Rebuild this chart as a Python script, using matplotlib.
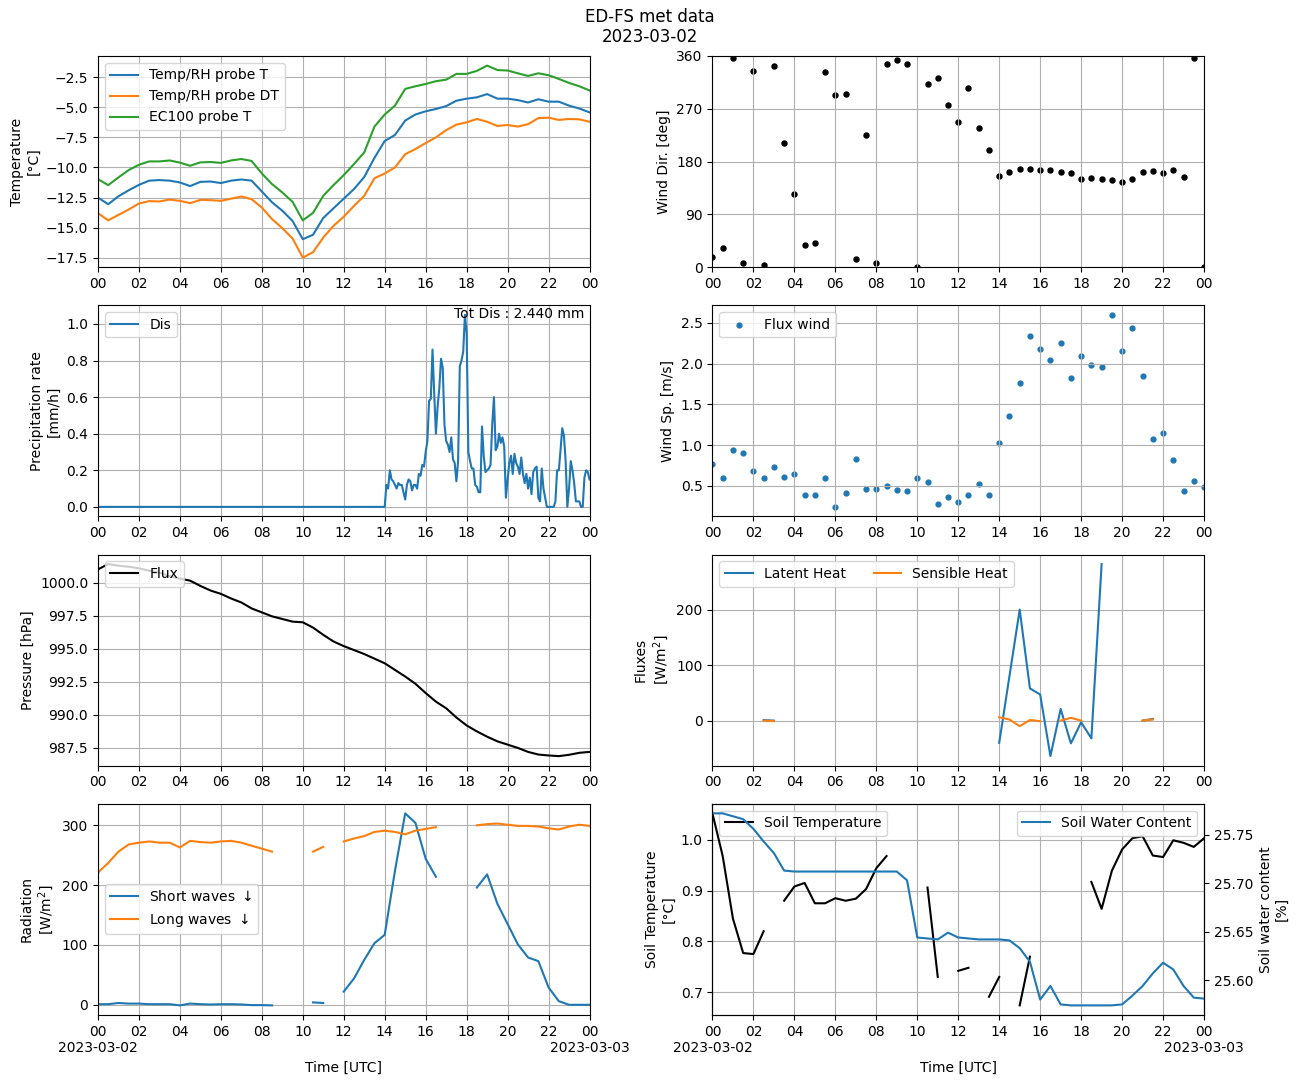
import matplotlib
matplotlib.use("Agg")
import matplotlib.pyplot as plt
import matplotlib.dates as mdates
import matplotlib.ticker as mticker
import numpy as np
import pandas as pd

nan = np.nan

# half-hourly time axis, 2023-03-02 00:00 .. 2023-03-03 00:00
times = pd.date_range("2023-03-02 00:00", periods=49, freq="30min")
# 5 minute time axis for the disdrometer
times_5min = pd.date_range("2023-03-02 00:00", periods=289, freq="5min")

temp_probe = [-12.5, -13.06, -12.4, -11.9, -11.45, -11.1, -11.05, -11.1, -11.25, -11.55,
              -11.2, -11.17, -11.3, -11.1, -11.0, -11.1, -12.0, -12.9, -13.6, -14.45,
              -15.97, -15.6, -14.2, -13.4, -12.6, -11.8, -10.8, -9.2, -7.8, -7.3,
              -6.1, -5.6, -5.33, -5.14, -4.9, -4.45, -4.28, -4.17, -3.9, -4.28,
              -4.28, -4.4, -4.6, -4.33, -4.53, -4.53, -4.86, -5.1, -5.42]
temp_dew = [-13.8, -14.4, -13.95, -13.5, -13.0, -12.8, -12.83, -12.67, -12.78, -12.97,
            -12.7, -12.72, -12.78, -12.6, -12.42, -12.64, -13.33, -14.3, -15.05, -15.9,
            -17.5, -17.05, -15.83, -14.86, -14.1, -13.2, -12.36, -10.9, -10.5, -10.0,
            -8.9, -8.47, -7.97, -7.5, -6.9, -6.44, -6.25, -5.97, -6.2, -6.55,
            -6.47, -6.6, -6.4, -5.9, -5.86, -6.05, -5.97, -6.0, -6.2]
temp_ec100 = [-10.97, -11.47, -10.83, -10.22, -9.78, -9.5, -9.5, -9.42, -9.6, -9.86,
              -9.58, -9.55, -9.62, -9.42, -9.3, -9.46, -10.5, -11.39, -12.08, -12.86,
              -14.4, -13.78, -12.36, -11.47, -10.64, -9.72, -8.75, -6.6, -5.6, -4.86,
              -3.47, -3.25, -3.06, -2.83, -2.7, -2.22, -2.22, -1.97, -1.53, -1.9,
              -1.94, -2.17, -2.39, -2.17, -2.33, -2.64, -2.97, -3.25, -3.6]

wind_dir = [18, 32, 357, 7, 334, 3, 343, 211, 125, 38,
            41, 332, 293, 295, 14, 226, 7, 347, 354, 346,
            0.5, 313, 323, 276, 248, 306, 238, 200, 156, 162,
            168, 168, 166, 166, 162, 161, 150, 152, 150, 149,
            145, 150, 162, 164, 161, 166, 154, 357, 1]

wind_speed = [0.77, 0.59, 0.94, 0.90, 0.68, 0.59, 0.73, 0.61, 0.64, 0.38,
              0.38, 0.59, 0.24, 0.41, 0.83, 0.46, 0.46, 0.50, 0.45, 0.44,
              0.60, 0.54, 0.28, 0.36, 0.30, 0.38, 0.52, 0.38, 1.02, 1.36,
              1.76, 2.34, 2.18, 2.04, 2.25, 1.83, 2.10, 1.98, 1.96, 2.60,
              2.15, 2.44, 1.85, 1.08, 1.15, 0.82, 0.43, 0.56, 0.48]

# precipitation rate, zero until 14:00, then 5 minute values 14:00 .. 24:00
precip_early = [0.0] * 168
precip_late = [0.0, 0.12, 0.10, 0.20, 0.15, 0.14, 0.12, 0.10, 0.13, 0.12,
               0.12, 0.08, 0.04, 0.12, 0.15, 0.14, 0.09, 0.12, 0.12, 0.10,
               0.18, 0.17, 0.23, 0.22, 0.30, 0.36, 0.58, 0.59, 0.86, 0.62,
               0.40, 0.55, 0.65, 0.81, 0.76, 0.45, 0.36, 0.34, 0.30, 0.38,
               0.26, 0.24, 0.14, 0.25, 0.77, 0.80, 0.85, 1.05, 0.95, 0.30,
               0.25, 0.21, 0.21, 0.12, 0.11, 0.08, 0.08, 0.44, 0.28, 0.19,
               0.20, 0.21, 0.23, 0.45, 0.60, 0.31, 0.33, 0.40, 0.35, 0.38,
               0.33, 0.05, 0.15, 0.24, 0.28, 0.18, 0.29, 0.24, 0.22, 0.18,
               0.27, 0.18, 0.13, 0.18, 0.10, 0.16, 0.07, 0.19, 0.21, 0.22,
               0.05, 0.03, 0.21, 0.10, 0.05, 0.0, 0.0, 0.0, 0.0, 0.0,
               0.03, 0.20, 0.20, 0.31, 0.43, 0.39, 0.25, 0.0, 0.10, 0.25,
               0.20, 0.13, 0.03, 0.03, 0.03, 0.0, 0.0, 0.16, 0.20, 0.19,
               0.15]
precip_total = 2.440

pressure = [1001.0, 1001.4, 1001.28, 1001.2, 1001.08, 1000.9, 1000.75, 1000.5, 1000.3, 1000.15,
            999.75, 999.4, 999.15, 998.8, 998.5, 998.05, 997.75, 997.45, 997.25, 997.05,
            997.0, 996.6, 996.05, 995.55, 995.2, 994.9, 994.6, 994.25, 993.9, 993.4,
            992.9, 992.35, 991.65, 991.0, 990.5, 989.8, 989.2, 988.75, 988.35, 988.0,
            987.75, 987.5, 987.2, 987.0, 986.93, 986.88, 986.98, 987.13, 987.2]

latent_heat = [nan, nan, nan, nan, nan, 1, 0, nan, nan, nan,
               nan, nan, nan, nan, nan, nan, nan, nan, nan, nan,
               nan, nan, nan, nan, nan, nan, nan, nan, -40, 80,
               200, 58, 47, -64, 21, -41, -3, -32, 282, nan,
               nan, nan, 0, 3, nan, nan, nan, nan, nan]
sensible_heat = [nan, nan, nan, nan, nan, 0, -1, nan, nan, nan,
                 nan, nan, nan, nan, nan, nan, nan, nan, nan, nan,
                 nan, nan, nan, nan, nan, nan, nan, nan, 6, 2,
                 -10, 1, -1, nan, 0, 5, 0, nan, nan, nan,
                 nan, nan, 0, 2, nan, nan, nan, nan, nan]

short_wave = [1, 1, 3, 2, 2, 1, 1, 1, -1, 2,
              1, 0.5, 1, 1, 0.5, -0.5, -0.5, -1, nan, nan,
              nan, 4, 3, nan, 22, 44, 75, 103, 117, 224,
              320, 304, 244, 214, nan, nan, nan, 196, 218, 169,
              135, 101, 79, 73, 29, 6, 0, 0, 0]
long_wave = [221, 237, 256, 268, 271, 273, 271, 271, 263, 274,
             272, 271, 273, 274, 271, 266, 261, 256, nan, nan,
             nan, 256, 264, nan, 273, 278, 282, 289, 291, 289,
             285, 291, 294, 297, nan, nan, nan, 300, 302, 303,
             301, 299, 299, 298, 295, 293, 298, 301, 299]

soil_temp = [1.052, 0.968, 0.845, 0.777, 0.775, 0.82, nan, 0.88, 0.908, 0.915,
             0.875, 0.875, 0.885, 0.88, 0.884, 0.903, 0.944, 0.968, nan, nan,
             nan, 0.906, 0.73, nan, 0.742, 0.748, nan, 0.691, 0.73, nan,
             0.674, 0.77, nan, nan, nan, nan, nan, 0.917, 0.864, 0.939,
             0.981, 1.003, 1.007, 0.969, 0.966, 0.999, 0.994, 0.986, 1.003]
soil_water = [25.772, 25.772, 25.769, 25.766, 25.756, 25.743, 25.731, 25.713, 25.712, 25.712,
              25.712, 25.712, 25.712, 25.712, 25.712, 25.712, 25.712, 25.712, 25.712, 25.703,
              25.644, 25.643, 25.642, 25.649, 25.644, 25.643, 25.642, 25.642, 25.642, 25.641,
              25.633, 25.619, 25.580, 25.594, 25.575, 25.574, 25.574, 25.574, 25.574, 25.574,
              25.575, 25.584, 25.594, 25.607, 25.618, 25.611, 25.594, 25.582, 25.581]

precip = precip_early + precip_late
t0 = times[0]
t1 = times[-1]


def hour_fmt(x, pos=None):
    d = mdates.num2date(x)
    return d.strftime("%H")


def hour_date_fmt(x, pos=None):
    d = mdates.num2date(x)
    if d.hour == 0:
        return d.strftime("%H\n%Y-%m-%d")
    return d.strftime("%H")


fig, axs = plt.subplots(4, 2, figsize=(12.99, 10.83), dpi=100)
fig.subplots_adjust(left=0.0754, right=0.9269, top=0.9483, bottom=0.0628,
                    wspace=0.25, hspace=0.18)
fig.suptitle("ED-FS met data\n2023-03-02", y=0.993)

# temperature
ax = axs[0, 0]
ax.plot(times, temp_probe, label="Temp/RH probe T")
ax.plot(times, temp_dew, label="Temp/RH probe DT")
ax.plot(times, temp_ec100, label="EC100 probe T")
ax.yaxis.set_major_locator(mticker.MultipleLocator(2.5))
ax.set_ylabel("Temperature\n[°C]")
ax.legend(loc="upper left")

# wind direction
ax = axs[0, 1]
ax.scatter(times, wind_dir, s=13, color="black")
ax.set_ylim(0, 360)
ax.set_yticks([0, 90, 180, 270, 360])
ax.set_ylabel("Wind Dir. [deg]")

# precipitation
ax = axs[1, 0]
ax.plot(times_5min, precip, label="Dis")
ax.text(0.99, 0.99, "Tot Dis : %.3f mm" % precip_total, transform=ax.transAxes,
        ha="right", va="top")
ax.set_ylabel("Precipitation rate\n[mm/h]")
ax.legend(loc="upper left")

# wind speed
ax = axs[1, 1]
ax.scatter(times, wind_speed, s=12, label="Flux wind")
ax.set_ylabel("Wind Sp. [m/s]")
ax.legend(loc="upper left")

# pressure
ax = axs[2, 0]
ax.plot(times, pressure, color="black", label="Flux")
ax.set_ylabel("Pressure [hPa]")
ax.legend(loc="upper left")

# fluxes
ax = axs[2, 1]
ax.plot(times, latent_heat, label="Latent Heat")
ax.plot(times, sensible_heat, label="Sensible Heat")
ax.set_ylabel("Fluxes\n[W/m$^2$]")
ax.legend(loc="upper left", ncol=2)

# radiation
ax = axs[3, 0]
ax.plot(times, short_wave, label="Short waves $\\downarrow$")
ax.plot(times, long_wave, label="Long waves $\\downarrow$")
ax.set_ylabel("Radiation\n[W/m$^2$]")
ax.set_xlabel("Time [UTC]")
ax.legend(loc="center left")

# soil
ax = axs[3, 1]
ax.plot(times, soil_temp, color="black", label="Soil Temperature")
ax.set_ylabel("Soil Temperature\n[°C]")
ax.set_xlabel("Time [UTC]")
ax.legend(loc="upper left")
ax2 = ax.twinx()
ax2.plot(times, soil_water, label="Soil Water Content")
ax2.set_ylabel("Soil water content\n[%]")
ax2.legend(loc="upper right")

for i, ax in enumerate(axs.flat):
    ax.set_xlim(t0, t1)
    ax.xaxis.set_major_locator(mdates.HourLocator(byhour=range(0, 24, 2)))
    if i >= 6:
        ax.xaxis.set_major_formatter(plt.FuncFormatter(hour_date_fmt))
    else:
        ax.xaxis.set_major_formatter(plt.FuncFormatter(hour_fmt))
    ax.grid(True)

fig.savefig("out.png", dpi=100)
